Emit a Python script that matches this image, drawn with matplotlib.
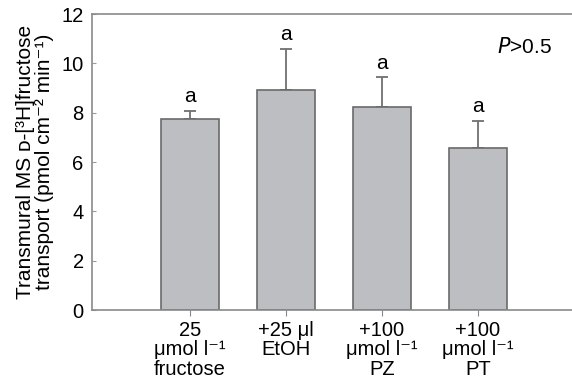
import matplotlib.pyplot as plt
import numpy as np

plt.rcParams['font.family'] = ['Liberation Sans', 'DejaVu Sans']

labels = ['25\nμmol l⁻¹\nfructose', '+25 μl\nEtOH', '+100\nμmol l⁻¹\nPZ', '+100\nμmol l⁻¹\nPT']
means = [7.75, 8.93, 8.25, 6.55]
errs = [0.32, 1.67, 1.18, 1.13]
letters = ['a', 'a', 'a', 'a']

x = np.arange(1, len(means) + 1)

fig = plt.figure(figsize=(5.72, 3.83), dpi=100)
ax = fig.add_axes([92 / 572, 73 / 383, 480 / 572, 296 / 383])

ax.bar(x, means, width=0.6, color='#bdbec2', edgecolor='#6a6a6a', linewidth=1.2, zorder=2)
ax.errorbar(x, means, yerr=[np.zeros(len(errs)), errs], fmt='none', ecolor='#707070',
            elinewidth=1.3, capsize=4, capthick=1.3, zorder=1)

for xi, m, e, s in zip(x, means, errs, letters):
    ax.text(xi, m + e + 0.35, s, ha='center', va='baseline', fontsize=15)

ax.text(0.958, 0.889, r'$\it{P}$>0.5', transform=ax.transAxes, ha='right', va='center',
        fontsize=15)

ax.set_xlim(-0.02, 4.98)
ax.set_ylim(0, 12)
ax.set_yticks(range(0, 13, 2))
ax.set_xticks(x)
ax.set_xticklabels(labels, fontsize=14.5, linespacing=1.02)
ax.tick_params(axis='y', direction='in', length=3, color='#999999', labelsize=14.5, pad=6)
ax.tick_params(axis='x', direction='out', length=4, color='#888888', pad=4)

for side in ['left', 'top', 'bottom']:
    ax.spines[side].set_color('#8a8a8a')
    ax.spines[side].set_linewidth(1.2)
ax.spines['right'].set_visible(False)

ax.set_ylabel('Transmural MS ᴅ-[³H]fructose\ntransport (pmol cm⁻² min⁻¹)', fontsize=15,
              linespacing=1.0, labelpad=5)

fig.savefig('out.png', dpi=100)
